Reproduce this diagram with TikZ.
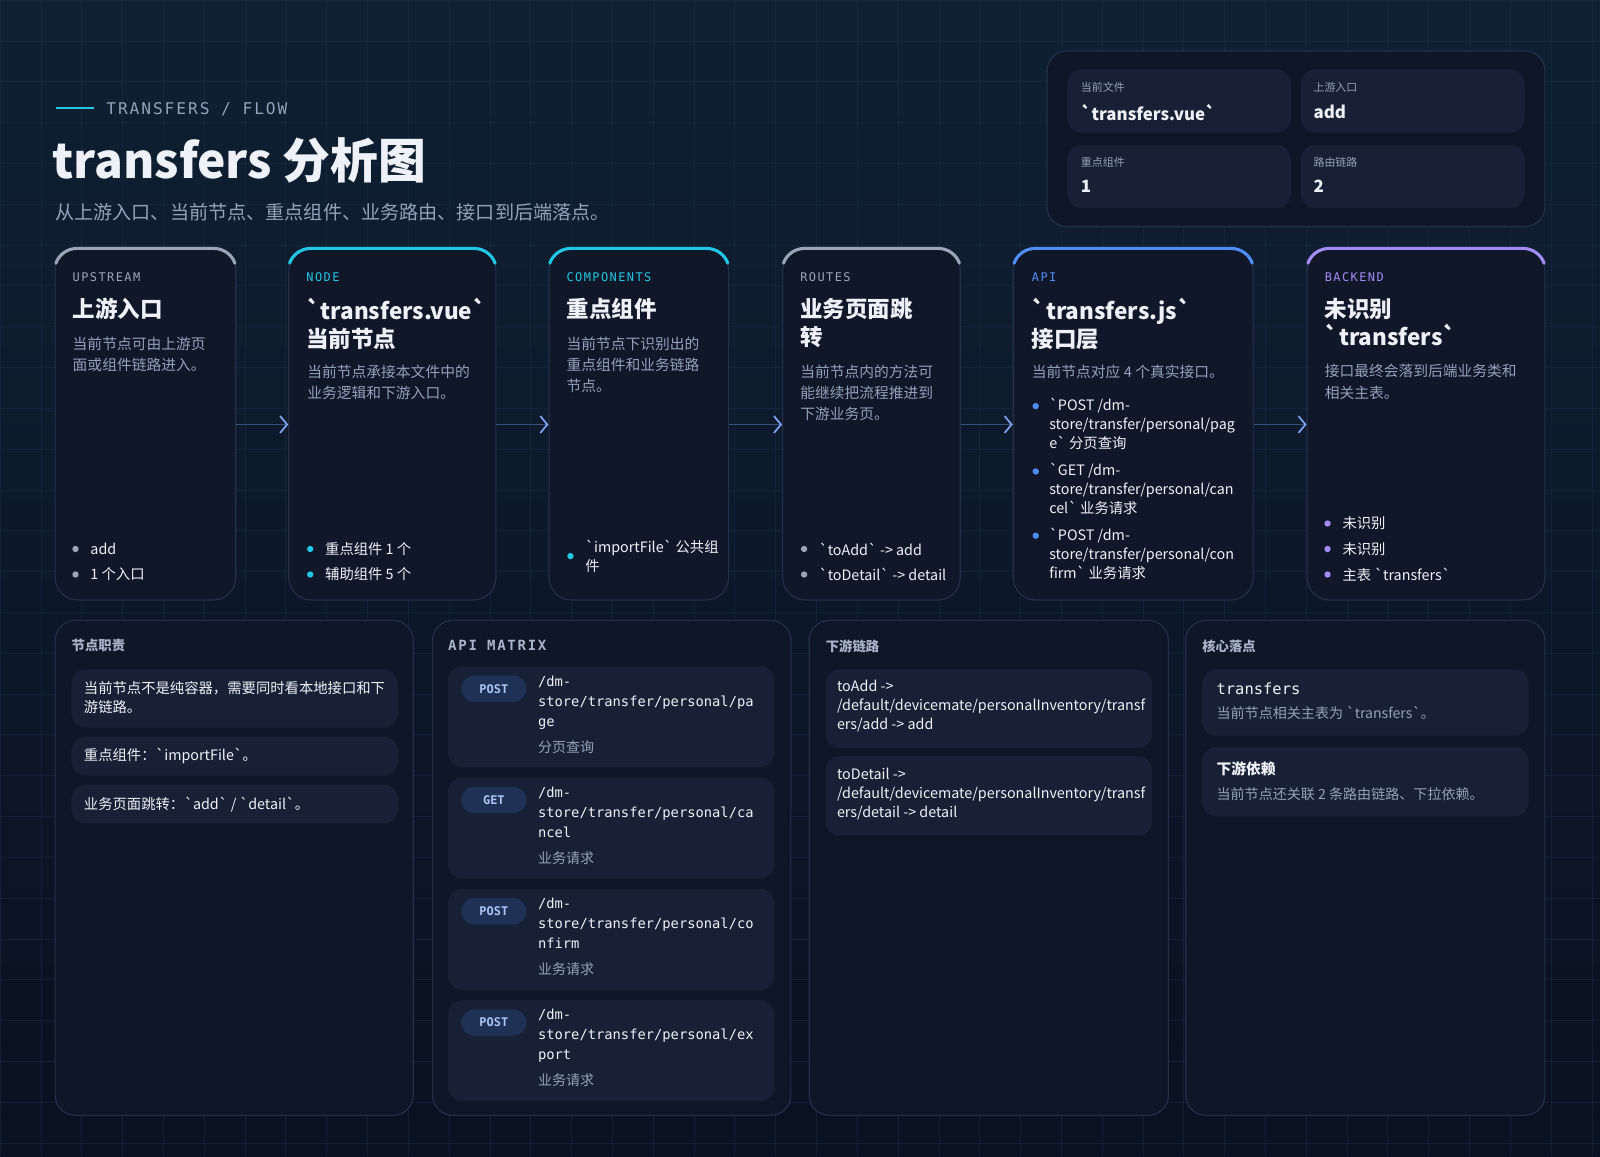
\documentclass[tikz,border=0pt]{standalone}
\usepackage{fontspec}
\setmainfont{Noto Sans CJK SC}[Ligatures=TeXOff]
\setmonofont{DejaVu Sans Mono}
\newfontfamily\labelfont[LetterSpace=12]{DejaVu Sans Mono}
\usetikzlibrary{arrows.meta,calc}

\definecolor{bgtop}{HTML}{0F2034}
\definecolor{bgbot}{HTML}{0A1120}
\definecolor{gridc}{HTML}{1A2A44}
\definecolor{cardfill}{HTML}{0F1729}
\definecolor{cardline}{HTML}{243049}
\definecolor{panelfill}{HTML}{0E1628}
\definecolor{itemfill}{HTML}{172034}
\definecolor{txt}{HTML}{EEF2F8}
\definecolor{desc}{HTML}{93A1BA}
\definecolor{grayacc}{HTML}{9AA6B8}
\definecolor{cyanacc}{HTML}{22C7E6}
\definecolor{blueacc}{HTML}{4F8DF7}
\definecolor{purpacc}{HTML}{A48CF7}
\definecolor{flowline}{HTML}{3A4F78}
\definecolor{flowtip}{HTML}{7EA6F5}
\definecolor{badgefill}{HTML}{1F3255}
\definecolor{badgetxt}{HTML}{A9C4F5}

\tikzset{
  gridline/.style={draw=gridc, line width=0.4pt, opacity=0.55},
  card/.style={draw=cardline, fill=cardfill, line width=0.8pt, rounded corners=0.56cm, minimum height=8.776cm},
  accent/.style={line width=2.2pt, line cap=round},
  panel/.style={draw=cardline, fill=panelfill, line width=0.8pt, rounded corners=0.5cm},
  item/.style={fill=itemfill, rounded corners=0.35cm},
  flow/.style={draw=flowline, line width=1pt, -{Straight Barb[length=5pt,width=12pt,line width=1.2pt,color=flowtip]}},
  cardlabel/.style={anchor=west, inner sep=0, font=\labelfont\fontsize{8.5}{10}\selectfont},
  cardtitle/.style={anchor=north west, inner sep=0, align=left, text=txt, font=\bfseries\fontsize{16}{20}\selectfont},
  carddesc/.style={anchor=north west, inner sep=0, align=left, text=desc, font=\fontsize{10.5}{15}\selectfont},
  bullet/.style={anchor=west, inner sep=0, align=left, text=txt, font=\fontsize{10.2}{13.5}\selectfont},
  dot/.style={circle, inner sep=0, minimum size=4.5pt},
  heading/.style={anchor=west, inner sep=0, text=desc!80!white, font=\bfseries\fontsize{9.5}{11}\selectfont},
  itemtext/.style={anchor=north west, inner sep=0, align=left, text=txt, font=\fontsize{10.2}{13.5}\selectfont},
  mono/.style={anchor=north west, inner sep=0, align=left, text=txt, font=\ttfamily\fontsize{9.8}{14.2}\selectfont},
  badge/.style={fill=badgefill, rounded corners=0.33cm, minimum width=1.63cm, minimum height=0.66cm, text=badgetxt, font=\ttfamily\bfseries\fontsize{8.5}{10}\selectfont},
  infolabel/.style={anchor=west, inner sep=0, text=desc, font=\fontsize{7.8}{9}\selectfont},
  infovalue/.style={anchor=west, inner sep=0, text=txt, font=\bfseries\fontsize{12}{14}\selectfont},
}

% top colour band of a card
\newcommand{\cardtop}[2]{%
  \draw[accent, #2] ($(#1.north west)+(0.56cm,-0.56cm)+(160:0.56cm)$)
    arc[start angle=160, end angle=90, radius=0.56cm]
    -- ($(#1.north east)+(-0.56cm,0)$)
    arc[start angle=90, end angle=20, radius=0.56cm];}

\begin{document}
\begin{tikzpicture}[x=0.02551cm, y=0.02551cm]
  \useasboundingbox (0,0) rectangle (1568,-1133);
  \shade[top color=bgtop, bottom color=bgbot] (0,0) rectangle (1568,-1133);
  \foreach \x in {0,40,...,1560} \draw[gridline] (\x,0) -- (\x,-1133);
  \foreach \y in {0,40,...,1120} \draw[gridline] (0,-\y) -- (1568,-\y);

  % header
  \coordinate (hl) at (55,-106);
  \coordinate (hr) at (92,-106);
  \draw[cyanacc, line width=1pt] (hl) -- (hr);
  \node[anchor=west, inner sep=0, text=desc, font=\labelfont\fontsize{11.5}{13}\selectfont] (kicker) at (104,-107) {TRANSFERS / FLOW};
  \node[anchor=west, inner sep=0, text=txt, font=\bfseries\fontsize{34}{40}\selectfont] (title) at (51,-157) {transfers 分析图};
  \node[anchor=west, inner sep=0, text=desc, font=\fontsize{13.6}{16}\selectfont] (subtitle) at (54,-208) {从上游入口、当前节点、重点组件、业务路由、接口到后端落点。};

  % info panel
  \draw[panel] (1026,-50) rectangle (1514,-222);
  \fill[item] (1046,-68) rectangle (1265,-130);
  \fill[item] (1275,-68) rectangle (1494,-130);
  \fill[item] (1046,-142) rectangle (1265,-204);
  \fill[item] (1275,-142) rectangle (1494,-204);
  \node[infolabel] (il1) at (1059,-86) {当前文件};
  \node[infovalue] (iv1) at (1059,-110) {`transfers.vue`};
  \node[infolabel] (il2) at (1287,-86) {上游入口};
  \node[infovalue] (iv2) at (1287,-110) {add};
  \node[infolabel] (il3) at (1059,-159) {重点组件};
  \node[infovalue] (iv3) at (1059,-183) {1};
  \node[infolabel] (il4) at (1287,-159) {路由链路};
  \node[infovalue] (iv4) at (1287,-183) {2};

  % flow cards
  \node[card, minimum width=4.515cm] (up) at (142.5,-416) {};
  \node[card, minimum width=5.179cm] (cur) at (384.5,-416) {};
  \node[card, minimum width=4.49cm] (comp) at (626,-416) {};
  \node[card, minimum width=4.439cm] (route) at (854,-416) {};
  \node[card, minimum width=5.995cm] (api) at (1110.5,-416) {};
  \node[card, minimum width=5.944cm] (back) at (1397.5,-416) {};
  \cardtop{up}{grayacc}
  \cardtop{cur}{cyanacc}
  \cardtop{comp}{cyanacc}
  \cardtop{route}{grayacc}
  \cardtop{api}{blueacc}
  \cardtop{back}{purpacc}
  \draw[flow] (up) -- (cur);
  \draw[flow] (cur) -- (comp);
  \draw[flow] (comp) -- (route);
  \draw[flow] (route) -- (api);
  \draw[flow] (api) -- (back);

  % upstream
  \node[cardlabel, text=grayacc] (upl) at (71,-272) {UPSTREAM};
  \node[cardtitle] (upt) at (71,-292) {上游入口};
  \node[carddesc] (upd) at (71,-330) {当前节点可由上游页\\面或组件链路进入。};
  \node[dot, fill=grayacc] (upb1) at (74,-538) {};
  \node[bullet, xshift=8pt] (upb1t) at (upb1.east) {add};
  \node[dot, fill=grayacc] (upb2) at (74,-563) {};
  \node[bullet, xshift=8pt] (upb2t) at (upb2.east) {1 个入口};

  % current node
  \node[cardlabel, text=cyanacc] (curl) at (300,-272) {NODE};
  \node[cardtitle] (curt) at (300,-292) {`transfers.vue`\\当前节点};
  \node[carddesc] (curd) at (301,-357) {当前节点承接本文件中的\\业务逻辑和下游入口。};
  \node[dot, fill=cyanacc] (curb1) at (304,-538) {};
  \node[bullet, xshift=8pt] (curb1t) at (curb1.east) {重点组件 1 个};
  \node[dot, fill=cyanacc] (curb2) at (304,-563) {};
  \node[bullet, xshift=8pt] (curb2t) at (curb2.east) {辅助组件 5 个};

  % components
  \node[cardlabel, text=cyanacc] (compl) at (555,-272) {COMPONENTS};
  \node[cardtitle] (compt) at (555,-292) {重点组件};
  \node[carddesc] (compd) at (555,-330) {当前节点下识别出的\\重点组件和业务链路\\节点。};
  \node[dot, fill=cyanacc] (compb1) at (559,-545) {};
  \node[bullet, xshift=8pt] (compb1t) at (compb1.east) {`importFile` 公共组\\件};

  % routes
  \node[cardlabel, text=grayacc] (routel) at (784,-272) {ROUTES};
  \node[cardtitle] (routet) at (784,-292) {业务页面跳\\转};
  \node[carddesc] (routed) at (784,-357) {当前节点内的方法可\\能继续把流程推进到\\下游业务页。};
  \node[dot, fill=grayacc] (routeb1) at (788,-538) {};
  \node[bullet, xshift=8pt] (routeb1t) at (routeb1.east) {`toAdd` -> add};
  \node[dot, fill=grayacc] (routeb2) at (788,-563) {};
  \node[bullet, xshift=8pt] (routeb2t) at (routeb2.east) {`toDetail` -> detail};

  % api
  \node[cardlabel, text=blueacc] (apil) at (1011,-272) {API};
  \node[cardtitle] (apit) at (1011,-292) {`transfers.js`\\接口层};
  \node[carddesc] (apid) at (1011,-357) {当前节点对应 4 个真实接口。};
  \node[dot, fill=blueacc] (apib1) at (1015,-398) {};
  \node[bullet, anchor=north west, xshift=7pt, yshift=6pt] (apib1t) at (apib1.east) {`POST /dm-\\store/transfer/personal/pag\\e` 分页查询};
  \node[dot, fill=blueacc] (apib2) at (1015,-462) {};
  \node[bullet, anchor=north west, xshift=7pt, yshift=6pt] (apib2t) at (apib2.east) {`GET /dm-\\store/transfer/personal/can\\cel` 业务请求};
  \node[dot, fill=blueacc] (apib3) at (1015,-525) {};
  \node[bullet, anchor=north west, xshift=7pt, yshift=6pt] (apib3t) at (apib3.east) {`POST /dm-\\store/transfer/personal/con\\firm` 业务请求};

  % backend
  \node[cardlabel, text=purpacc] (backl) at (1298,-272) {BACKEND};
  \node[cardtitle] (backt) at (1298,-292) {未识别\\`transfers`};
  \node[carddesc] (backd) at (1298,-357) {接口最终会落到后端业务类和\\相关主表。};
  \node[dot, fill=purpacc] (backb1) at (1301,-513) {};
  \node[bullet, xshift=8pt] (backb1t) at (backb1.east) {未识别};
  \node[dot, fill=purpacc] (backb2) at (1301,-538) {};
  \node[bullet, xshift=8pt] (backb2t) at (backb2.east) {未识别};
  \node[dot, fill=purpacc] (backb3) at (1301,-563) {};
  \node[bullet, xshift=8pt] (backb3t) at (backb3.east) {主表 `transfers`};

  % bottom panels
  \draw[panel] (54,-608) rectangle (405,-1093);
  \draw[panel] (424,-608) rectangle (775,-1093);
  \draw[panel] (793,-608) rectangle (1145,-1093);
  \draw[panel] (1162,-608) rectangle (1514,-1093);

  % duties
  \node[heading] (dutyh) at (70,-633) {节点职责};
  \fill[item] (70,-656) rectangle (390,-713);
  \fill[item] (70,-722) rectangle (390,-760);
  \fill[item] (70,-769) rectangle (390,-807);
  \node[itemtext] (duty1) at (82,-667) {当前节点不是纯容器，需要同时看本地接口和下\\游链路。};
  \node[itemtext, anchor=west] (duty2) at (82,-741) {重点组件：`importFile`。};
  \node[itemtext, anchor=west] (duty3) at (82,-788) {业务页面跳转：`add` / `detail`。};

  % api matrix
  \node[heading, font=\labelfont\bfseries\fontsize{10}{12}\selectfont] (apih) at (439,-632) {API MATRIX};
  \foreach \t/\m/\a/\b/\d in {653/POST/pa/ge/分页查询, 762/GET/ca/ncel/业务请求, 871/POST/co/nfirm/业务请求, 980/POST/ex/port/业务请求} {
    \fill[item] (439,-\t) rectangle (759,-\t-99);
    \node[badge] (m\t) at (484,-\t-22) {\m};
    \node[mono] (p\t) at (527,-\t-9) {/dm-\\store/transfer/personal/\a\\\b};
    \node[anchor=west, inner sep=0, text=desc, font=\fontsize{10}{12}\selectfont] (d\t) at (527,-\t-79) {\d};
  }

  % downstream links
  \node[heading] (downh) at (809,-633) {下游链路};
  \fill[item] (809,-656) rectangle (1129,-733);
  \fill[item] (809,-741) rectangle (1129,-819);
  \node[itemtext] (down1) at (820,-666) {toAdd ->\\/default/devicemate/personalInventory/transf\\ers/add -> add};
  \node[itemtext] (down2) at (820,-752) {toDetail ->\\/default/devicemate/personalInventory/transf\\ers/detail -> detail};

  % core landing
  \node[heading] (coreh) at (1178,-633) {核心落点};
  \fill[item] (1178,-656) rectangle (1498,-721);
  \fill[item] (1178,-732) rectangle (1498,-800);
  \node[anchor=west, inner sep=0, text=txt, font=\ttfamily\fontsize{11}{13}\selectfont] (core1) at (1192,-675) {transfers};
  \node[anchor=west, inner sep=0, text=desc, font=\fontsize{10}{12}\selectfont] (core1d) at (1192,-699) {当前节点相关主表为 `transfers`。};
  \node[anchor=west, inner sep=0, text=txt, font=\bfseries\fontsize{10.5}{12}\selectfont] (core2) at (1192,-753) {下游依赖};
  \node[anchor=west, inner sep=0, text=desc, font=\fontsize{10}{12}\selectfont] (core2d) at (1192,-778) {当前节点还关联 2 条路由链路、下拉依赖。};
\end{tikzpicture}
\end{document}
